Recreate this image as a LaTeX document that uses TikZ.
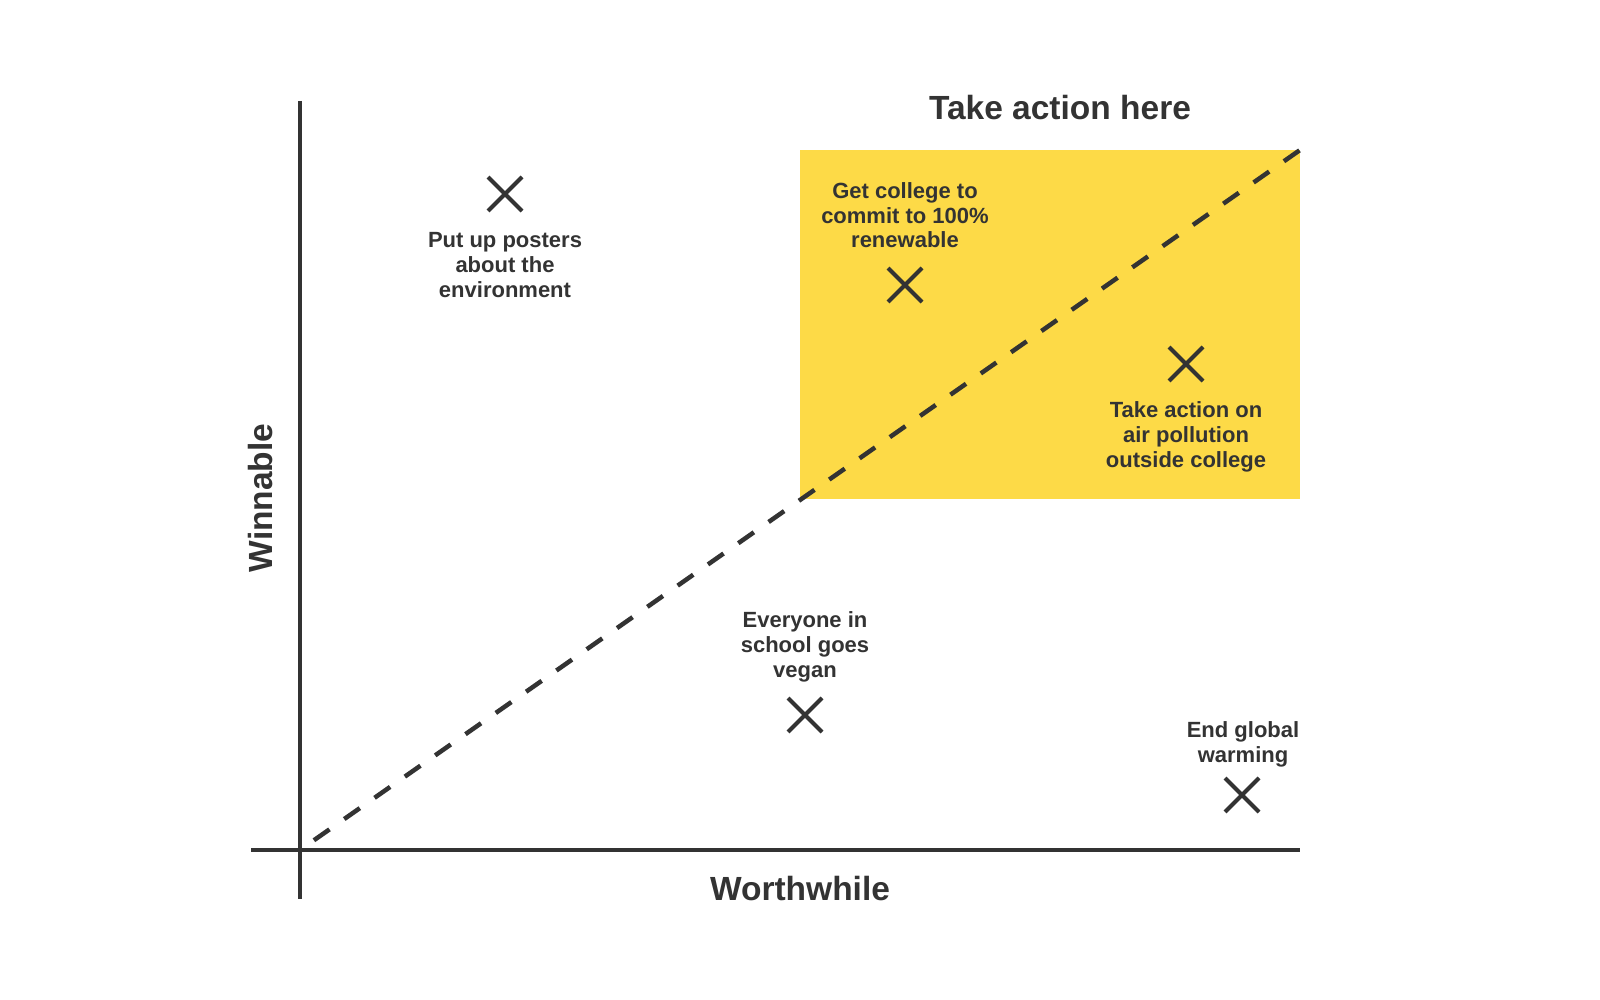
\documentclass[tikz,border=0pt]{standalone}
\usepackage{fontspec}
\setmainfont{Liberation Sans}
\usetikzlibrary{shapes.misc}
\definecolor{ink}{HTML}{333333}
\definecolor{hilite}{HTML}{FDDA47}
\begin{document}
\begin{tikzpicture}[x=1pt,y=-1pt,
  axis/.style={draw=ink,line width=4pt},
  guide/.style={draw=ink,line width=4.5pt,dash pattern=on 19pt off 18pt,dash phase=20pt},
  marker/.style={cross out,draw=ink,line width=4pt,minimum size=30pt,inner sep=0pt},
  item/.style={text=ink,font=\fontsize{22}{24.8}\selectfont\bfseries,align=center,anchor=base,inner sep=0pt},
  big/.style={text=ink,font=\fontsize{33.5}{38}\selectfont\bfseries,anchor=base,inner sep=0pt}]
\useasboundingbox (0,0) rectangle (1600,1000);
\fill[white] (0,0) rectangle (1600,1000);
% highlight zone
\fill[hilite] (800,150) rectangle (1300,499);
% axes
\coordinate (ytop) at (300,101);
\coordinate (ybot) at (300,899);
\coordinate (xl) at (251,850);
\coordinate (xr) at (1300,850);
\coordinate (orig) at (300,850);
\coordinate (corner) at (1300,150);
\draw[axis] (ytop) -- (ybot);
\draw[axis] (xl) -- (xr);
\draw[guide] (orig) -- (corner);
% labels
\node[big] (title) at (1060,120) {Take action here};
\node[big] (xlab) at (800,900) {Worthwhile};
\node[big,rotate=90] (ylab) at (272,498) {Winnable};
% items
\node[marker] (m1) at (505,194) {};
\node[item] (t1) at (505,297) {Put up posters\\about the\\environment};
\node[marker] (m2) at (905,285) {};
\node[item] (t2) at (905,248) {Get college to\\commit to 100\%\\renewable};
\node[marker] (m3) at (1186,364) {};
\node[item] (t3) at (1186,467) {Take action on\\air pollution\\outside college};
\node[marker] (m4) at (805,715) {};
\node[item] (t4) at (805,677) {Everyone in\\school goes\\vegan};
\node[marker] (m5) at (1242,795) {};
\node[item] (t5) at (1243,762) {End global\\warming};
\end{tikzpicture}
\end{document}
